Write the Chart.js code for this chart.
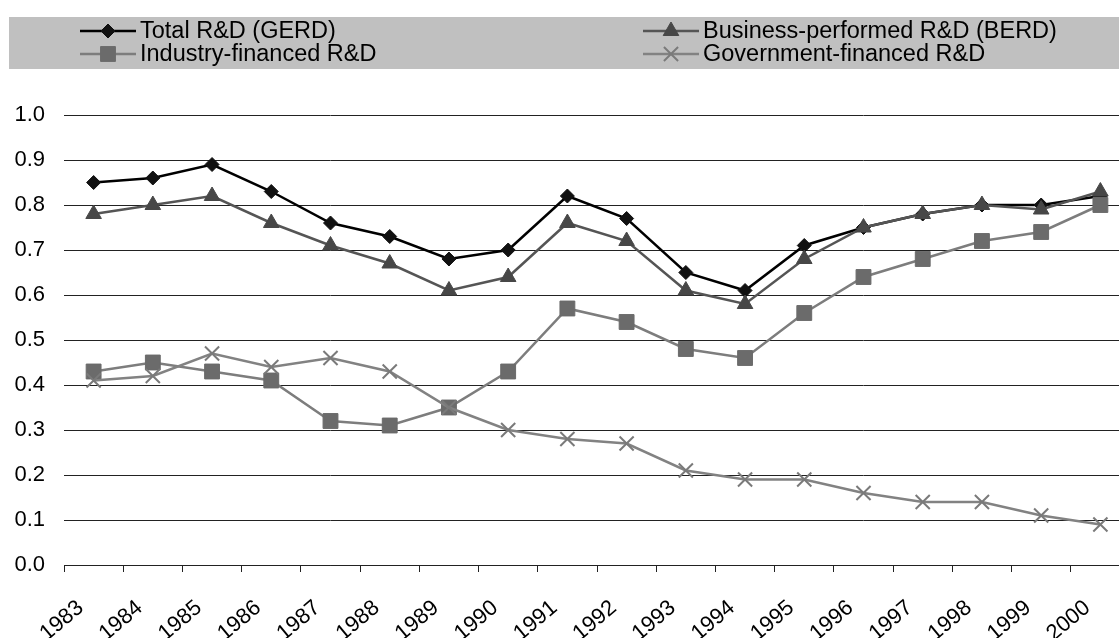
<!DOCTYPE html>
<html>
<head>
<meta charset="utf-8">
<script src="https://cdn.jsdelivr.net/npm/chart.js@4"></script>
<style>
  html, body { margin: 0; padding: 0; background: #fff; overflow: hidden; }
  #wrap { width: 1142px; height: 638px; }
</style>
</head>
<body>
<div id="wrap"><canvas id="chart"></canvas></div>
<script>
let years = ["1983", "1984", "1985", "1986", "1987", "1988", "1989", "1990", "1991",
  "1992", "1993", "1994", "1995", "1996", "1997", "1998", "1999", "2000"];
let gerd = [0.85, 0.86, 0.89, 0.83, 0.76, 0.73, 0.68, 0.70, 0.82, 0.77, 0.65, 0.61, 0.71, 0.75, 0.78, 0.80, 0.80, 0.82];
let berd = [0.78, 0.80, 0.82, 0.76, 0.71, 0.67, 0.61, 0.64, 0.76, 0.72, 0.61, 0.58, 0.68, 0.75, 0.78, 0.80, 0.79, 0.83];
let industry = [0.43, 0.45, 0.43, 0.41, 0.32, 0.31, 0.35, 0.43, 0.57, 0.54, 0.48, 0.46, 0.56, 0.64, 0.68, 0.72, 0.74, 0.80];
let government = [0.41, 0.42, 0.47, 0.44, 0.46, 0.43, 0.35, 0.30, 0.28, 0.27, 0.21, 0.19, 0.19, 0.16, 0.14, 0.14, 0.11, 0.09];

let yTicks = [0.0, 0.1, 0.2, 0.3, 0.4, 0.5, 0.6, 0.7, 0.8, 0.9, 1.0];

let fontFamily = "'Liberation Sans', Arial, sans-serif";

function series(label, data, line, fill, style, radius, order) {
  return {
    label: label,
    data: data,
    borderColor: line,
    backgroundColor: fill,
    pointBackgroundColor: fill,
    pointBorderColor: fill,
    pointStyle: style,
    pointRadius: radius,
    pointBorderWidth: style === "crossRot" ? 2 : 1,
    borderWidth: 2.5,
    tension: 0,
    order: order
  };
}

// legend box drawn by hand: grey band, two columns
let legendBox = {
  id: "legendBox",
  afterDraw: function(chart) {
    let ctx = chart.ctx;
    ctx.save();
    ctx.fillStyle = "#c0c0c0";
    ctx.fillRect(9, 17, chart.width - 9, 52);
    let cols = [80, 643];
    let rows = [31, 54];
    chart.data.datasets.forEach(function(ds, i) {
      let x = cols[i % 2];
      let y = rows[Math.floor(i / 2)];
      ctx.strokeStyle = ds.borderColor;
      ctx.lineWidth = 2.5;
      ctx.beginPath();
      ctx.moveTo(x, y);
      ctx.lineTo(x + 56, y);
      ctx.stroke();
      ctx.fillStyle = ds.pointBackgroundColor;
      ctx.strokeStyle = ds.pointBorderColor;
      ctx.lineWidth = ds.pointBorderWidth;
      Chart.helpers.drawPoint(ctx, {
        pointStyle: ds.pointStyle, radius: ds.pointRadius, rotation: 0, borderWidth: ds.pointBorderWidth
      }, x + 28, y);
      ctx.fillStyle = "#000";
      ctx.font = "23.5px " + fontFamily;
      ctx.textBaseline = "middle";
      ctx.textAlign = "left";
      ctx.fillText(ds.label, x + 60, y + 1);
    });
    ctx.restore();
  }
};

let ctx = document.getElementById("chart").getContext("2d");
new Chart(ctx, {
  type: "line",
  data: {
    labels: years,
    datasets: [
      series("Total R&D (GERD)", gerd, "#000000", "#111111", "rectRot", 7, 4),
      series("Business-performed R&D (BERD)", berd, "#555555", "#474747", "triangle", 9, 3),
      series("Industry-financed R&D", industry, "#7d7d7d", "#6b6b6b", "rect", 10.5, 2),
      series("Government-financed R&D", government, "#828282", "#7a7a7a", "crossRot", 10, 1)
    ]
  },
  options: {
    responsive: true,
    maintainAspectRatio: false,
    animation: false,
    layout: { padding: { top: 115, left: 0, right: 0, bottom: 0 } },
    plugins: {
      legend: { display: false },
      tooltip: { enabled: false }
    },
    scales: {
      x: {
        offset: true,
        grid: {
          offset: true,
          drawOnChartArea: false,
          drawTicks: true,
          tickLength: 7,
          color: "#222"
        },
        border: { color: "#222", width: 1 },
        ticks: {
          color: "#000",
          font: { family: fontFamily, size: 22 },
          minRotation: 40,
          maxRotation: 40,
          padding: 23,
          labelOffset: -13,
          autoSkip: false
        },
        afterFit: function(scale) { scale.height = 73; }
      },
      y: {
        min: 0,
        max: 1,
        afterBuildTicks: function(scale) {
          scale.ticks = yTicks.map(function(v) { return { value: v }; });
        },
        grid: { drawTicks: false, color: "#222", lineWidth: 1 },
        border: { display: false },
        ticks: {
          color: "#000",
          padding: 19,
          font: { family: fontFamily, size: 22 },
          callback: function(v) { return Number(v).toFixed(1); }
        },
        afterFit: function(scale) { scale.width = 64; }
      }
    }
  },
  plugins: [legendBox]
});
</script>
</body>
</html>
